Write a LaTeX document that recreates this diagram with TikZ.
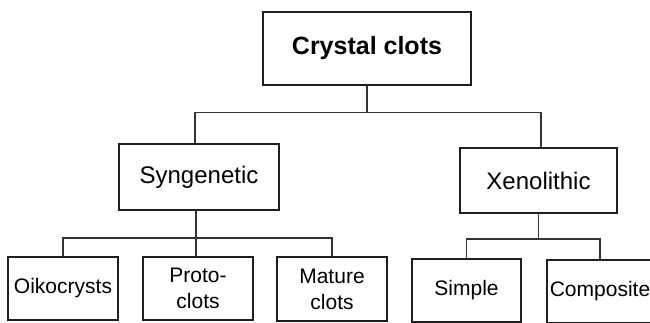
\documentclass[tikz,border=0pt]{standalone}
\usepackage{fontspec}
\setmainfont{Liberation Sans}
\begin{document}
\begin{tikzpicture}[x=1pt,y=-1pt,
  box/.style={draw=black!88, line width=1.9pt, rectangle, inner sep=0pt, align=center},
  link/.style={draw=black!80, line width=1.1pt},
  rootfont/.style={font=\fontsize{25}{29}\selectfont\bfseries},
  midfont/.style={font=\fontsize{24}{28}\selectfont},
  leaffont/.style={font=\fontsize{21}{26}\selectfont}]
  \useasboundingbox (0,0) rectangle (650,323);

  % root
  \node[box, rootfont, minimum width=208pt, minimum height=73pt] (root) at (367,48.5) {\raisebox{2pt}{Crystal clots}};

  % second level
  \node[box, midfont, minimum width=160pt, minimum height=66pt] (syn) at (199,177) {Syngenetic};
  \node[box, midfont, minimum width=157pt, minimum height=65pt] (xen) at (538.5,180.5) {Xenolithic};

  % leaves
  \node[box, leaffont, minimum width=110pt, minimum height=63pt] (oiko) at (63,288.5) {Oikocrysts};
  \node[box, leaffont, minimum width=110pt, minimum height=63pt] (proto) at (198,288.5) {Proto-\\clots};
  \node[box, leaffont, minimum width=110pt, minimum height=64pt] (mature) at (332,289) {Mature\\clots};
  \node[box, leaffont, minimum width=109pt, minimum height=63pt] (simple) at (466.5,290.5) {Simple};
  \node[box, leaffont, minimum width=106pt, minimum height=63pt] (comp) at (600,291.5) {Composite};

  % root branch
  \draw[link] (root.south) -- ++(0,27) coordinate (j1);
  \draw[link] ([xshift=-4pt]syn.north) |- (j1) -| ([xshift=2.5pt]xen.north);

  % syngenetic branch
  \draw[link] ([xshift=-3pt]syn.south) -- ++(0,27) coordinate (j2);
  \draw[link] (oiko.north) |- (j2) -| (mature.north);
  \draw[link] (j2) -- (j2 |- proto.north);

  % xenolithic branch
  \draw[link] (xen.south) -- ++(0,25) coordinate (j3);
  \draw[link] (simple.north) |- (j3) -| (comp.north);
\end{tikzpicture}
\end{document}
